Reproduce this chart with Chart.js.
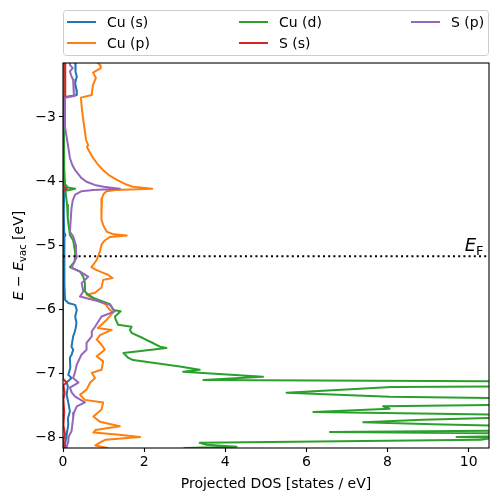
<!DOCTYPE html>
<html>
<head>
<meta charset="utf-8">
<script src="https://cdn.jsdelivr.net/npm/chart.js@4.4.1/dist/chart.umd.min.js"></script>
<style>
html, body { margin: 0; padding: 0; background: #fff; }
canvas { display: block; }
</style>
</head>
<body>
<canvas id="dosChart" width="498" height="502"></canvas>
<script>
// Werte als [Energie, DOS]
var cuS = [[-2.10,0.30],[-2.19,0.32],[-2.24,0.30],[-2.30,0.31],[-2.37,0.34],[-2.47,0.30],[-2.58,0.33],[-2.66,0.34],[-2.69,0.05],[-2.75,0.02],[-3.20,0.02],[-3.80,0.02],[-4.10,0.03],[-4.50,0.02],[-4.80,0.03],[-4.84,0.06],[-4.88,0.03],[-5.20,0.03],[-5.60,0.04],[-5.85,0.05],[-5.90,0.13],[-5.93,0.30],[-6.01,0.34],[-6.11,0.30],[-6.20,0.33],[-6.27,0.32],[-6.35,0.29],[-6.42,0.25],[-6.58,0.21],[-6.63,0.25],[-6.71,0.21],[-6.75,0.17],[-6.91,0.18],[-7.02,0.13],[-7.07,0.21],[-7.14,0.09],[-7.20,0.12],[-7.33,0.09],[-7.45,0.13],[-7.59,0.17],[-7.70,0.12],[-7.80,0.13],[-7.95,0.09],[-8.11,0.05],[-8.25,0.05]];

var cuP = [[-2.05,0.88],[-2.16,0.86],[-2.20,0.92],[-2.24,0.93],[-2.31,0.74],[-2.39,0.81],[-2.50,0.74],[-2.58,0.72],[-2.66,0.71],[-2.70,0.44],[-2.90,0.47],[-3.05,0.50],[-3.36,0.57],[-3.44,0.62],[-3.47,0.59],[-3.55,0.66],[-3.64,0.74],[-3.75,0.87],[-3.83,0.99],[-3.92,1.16],[-3.98,1.33],[-4.05,1.55],[-4.09,1.72],[-4.12,2.20],[-4.14,1.30],[-4.16,1.07],[-4.20,1.00],[-4.27,0.96],[-4.37,0.94],[-4.50,0.94],[-4.60,0.96],[-4.70,1.00],[-4.79,1.08],[-4.83,1.25],[-4.85,1.57],[-4.87,1.16],[-4.93,1.02],[-4.99,0.95],[-5.10,0.91],[-5.18,0.86],[-5.23,0.83],[-5.34,0.70],[-5.38,0.80],[-5.43,0.99],[-5.46,1.11],[-5.51,1.22],[-5.54,0.99],[-5.66,0.95],[-5.74,0.79],[-5.77,0.58],[-5.85,0.80],[-5.92,1.05],[-6.01,1.16],[-6.05,1.23],[-6.16,1.08],[-6.29,0.86],[-6.32,1.20],[-6.40,0.91],[-6.47,0.83],[-6.55,0.95],[-6.63,1.03],[-6.73,0.83],[-6.81,0.99],[-6.94,0.95],[-6.99,0.71],[-7.07,0.79],[-7.14,0.67],[-7.25,0.58],[-7.33,0.42],[-7.41,0.54],[-7.45,0.99],[-7.56,0.95],[-7.67,0.75],[-7.75,0.91],[-7.82,1.40],[-7.88,0.80],[-7.92,0.75],[-7.95,1.32],[-7.99,1.90],[-8.03,1.05],[-8.06,0.95],[-8.12,0.80],[-8.16,1.10],[-8.25,1.05]];

var cuD = [[-2.05,0.02],[-3.00,0.02],[-3.80,0.03],[-4.05,0.05],[-4.10,0.12],[-4.12,0.30],[-4.15,0.06],[-4.37,0.10],[-4.60,0.12],[-4.84,0.17],[-4.92,0.25],[-5.12,0.30],[-5.18,0.30],[-5.26,0.28],[-5.34,0.17],[-5.41,0.42],[-5.49,0.50],[-5.59,0.54],[-5.72,0.54],[-5.76,0.60],[-5.82,0.75],[-5.86,0.91],[-5.92,1.16],[-6.01,1.24],[-6.03,1.42],[-6.11,1.28],[-6.16,1.30],[-6.24,1.36],[-6.27,1.69],[-6.32,1.65],[-6.37,1.70],[-6.45,1.98],[-6.52,2.20],[-6.58,2.39],[-6.60,2.55],[-6.68,1.49],[-6.75,1.60],[-6.79,1.73],[-6.89,2.88],[-6.94,3.37],[-6.97,2.96],[-7.05,4.93],[-7.10,3.46],[-7.12,10.6],[-7.16,14],[-7.20,10.6],[-7.21,8.10],[-7.30,5.51],[-7.36,8.05],[-7.38,10.6],[-7.44,14],[-7.49,10.6],[-7.51,7.89],[-7.55,8.05],[-7.60,6.17],[-7.64,10.6],[-7.67,14],[-7.69,10.6],[-7.72,8.87],[-7.76,7.40],[-7.79,9.12],[-7.81,10.6],[-7.85,13],[-7.89,10.6],[-7.91,6.58],[-7.93,10.6],[-7.96,13],[-7.98,10.44],[-7.99,9.70],[-8.00,10.6],[-8.03,10.3],[-8.08,3.37],[-8.11,3.54],[-8.14,4.28],[-8.16,3.00],[-8.25,2.80]];

var sS = [[-2.05,0.05],[-2.40,0.06],[-2.68,0.05],[-2.72,0.0],[-4.07,0.0],[-4.12,0.09],[-4.17,0.0],[-7.08,0.0],[-7.14,0.09],[-7.18,0.01],[-7.30,0.04],[-7.40,0.01],[-7.60,0.03],[-7.80,0.01],[-7.95,0.05],[-8.05,0.01],[-8.25,0.02]];

var sP = [[-2.05,0.18],[-2.19,0.17],[-2.24,0.24],[-2.29,0.17],[-2.37,0.21],[-2.42,0.25],[-2.55,0.26],[-2.63,0.27],[-2.67,0.30],[-2.70,0.05],[-3.16,0.05],[-3.47,0.13],[-3.64,0.17],[-3.75,0.23],[-3.83,0.30],[-3.95,0.45],[-4.01,0.58],[-4.06,0.78],[-4.09,1.00],[-4.12,1.40],[-4.14,0.75],[-4.16,0.45],[-4.21,0.30],[-4.30,0.24],[-4.42,0.21],[-4.79,0.17],[-4.86,0.25],[-5.00,0.32],[-5.12,0.32],[-5.18,0.34],[-5.35,0.21],[-5.41,0.42],[-5.49,0.62],[-5.59,0.46],[-5.72,0.50],[-5.80,0.42],[-5.86,0.80],[-5.93,1.16],[-6.03,1.28],[-6.11,0.95],[-6.27,0.79],[-6.34,0.71],[-6.42,0.71],[-6.52,0.58],[-6.63,0.58],[-6.71,0.45],[-6.86,0.34],[-6.97,0.30],[-7.07,0.25],[-7.14,0.38],[-7.22,0.17],[-7.30,0.22],[-7.36,0.30],[-7.45,0.54],[-7.51,0.34],[-7.61,0.27],[-7.69,0.25],[-7.90,0.21],[-7.98,0.14],[-8.06,0.13],[-8.14,0.09],[-8.25,0.09]];

var serienNamen = ['Cu (s)', 'Cu (p)', 'Cu (d)', 'S (s)', 'S (p)'];
var serienFarben = ['#1f77b4', '#ff7f0e', '#2ca02c', '#d62728', '#9467bd'];
var serienDaten = [cuS, cuP, cuD, sS, sP];

var eFermi = -5.17;
var xTicks = [0, 2, 4, 6, 8, 10];
var yTicks = [-8, -7, -6, -5, -4, -3];
var xBereich = [0, 10.5];
var yBereich = [-8.16, -2.16];

var schrift = "'DejaVu Sans', sans-serif";

function zuPunkten(reihe) {
    return reihe.map(function(p) { return { x: p[1], y: p[0] }; });
}

function minus(v) {
    return String(v).replace('-', '\u2212');
}

var datasets = serienDaten.map(function(reihe, i) {
    return {
        label: serienNamen[i],
        data: zuPunkten(reihe),
        showLine: true,
        borderColor: serienFarben[i],
        backgroundColor: serienFarben[i],
        borderWidth: 2,
        pointRadius: 0,
        tension: 0,
        borderJoinStyle: 'round',
        order: serienDaten.length - i + 1
    };
});

datasets.push({
    label: 'EF',
    data: [{ x: xBereich[0], y: eFermi }, { x: xBereich[1], y: eFermi }],
    showLine: true,
    borderColor: '#000',
    borderWidth: 2,
    borderDash: [2, 3.2],
    pointRadius: 0,
    order: 0
});

function textTeile(ctx, teile, x, y) {
    var pos = x;
    teile.forEach(function(t) {
        ctx.font = t.f;
        ctx.fillText(t.t, pos, y + (t.dy || 0));
        pos += ctx.measureText(t.t).width;
    });
}

function breite(ctx, teile) {
    var w = 0;
    teile.forEach(function(t) { ctx.font = t.f; w += ctx.measureText(t.t).width; });
    return w;
}

var dekoPlugin = {
    id: 'deko',
    afterDraw: function(chart) {
        var ctx = chart.ctx, a = chart.chartArea;
        var xs = chart.scales.x, ys = chart.scales.y;
        ctx.save();
        ctx.fillStyle = '#000';
        ctx.textBaseline = 'alphabetic';
        ctx.textAlign = 'left';

        // Rahmen
        ctx.strokeStyle = '#000';
        ctx.lineWidth = 1.1;
        ctx.strokeRect(a.left, a.top, a.right - a.left, a.bottom - a.top);

        // E_F Beschriftung
        var fx = xs.getPixelForValue(9.9), fy = ys.getPixelForValue(-5.09);
        textTeile(ctx, [
            { t: 'E', f: 'italic 18px ' + schrift },
            { t: 'F', f: '13px ' + schrift, dy: 4 }
        ], fx, fy);

        // x-Achsentitel
        ctx.font = '14px ' + schrift;
        ctx.textAlign = 'center';
        ctx.fillText('Projected DOS [states / eV]', (a.left + a.right) / 2, 488);

        // y-Achsentitel
        ctx.textAlign = 'left';
        var yTeile = [
            { t: 'E', f: 'italic 14px ' + schrift },
            { t: ' \u2212 ', f: '14px ' + schrift },
            { t: 'E', f: 'italic 14px ' + schrift },
            { t: 'vac', f: '10px ' + schrift, dy: 3 },
            { t: ' [eV]', f: '14px ' + schrift }
        ];
        ctx.save();
        ctx.translate(23, (a.top + a.bottom) / 2);
        ctx.rotate(-Math.PI / 2);
        textTeile(ctx, yTeile, -breite(ctx, yTeile) / 2, 0);
        ctx.restore();

        // Legende
        var lx = 63.5, ly = 10.5, lw = 425, lh = 45, r = 3;
        ctx.beginPath();
        ctx.moveTo(lx + r, ly);
        ctx.arcTo(lx + lw, ly, lx + lw, ly + lh, r);
        ctx.arcTo(lx + lw, ly + lh, lx, ly + lh, r);
        ctx.arcTo(lx, ly + lh, lx, ly, r);
        ctx.arcTo(lx, ly, lx + lw, ly, r);
        ctx.closePath();
        ctx.fillStyle = 'rgba(255,255,255,0.8)';
        ctx.fill();
        ctx.strokeStyle = '#cccccc';
        ctx.lineWidth = 1;
        ctx.stroke();

        var spalteX = [67, 239, 411];
        var zeileY = [22, 43];
        ctx.font = '14px ' + schrift;
        ctx.textBaseline = 'middle';
        serienNamen.forEach(function(name, i) {
            var sx = spalteX[Math.floor(i / 2)], sy = zeileY[i % 2];
            ctx.strokeStyle = serienFarben[i];
            ctx.lineWidth = 2;
            ctx.beginPath();
            ctx.moveTo(sx, sy);
            ctx.lineTo(sx + 29, sy);
            ctx.stroke();
            ctx.fillStyle = '#000';
            ctx.fillText(name, sx + 40, sy + 1);
        });
        ctx.restore();
    }
};

var ctx = document.getElementById('dosChart').getContext('2d');
var dosChart = new Chart(ctx, {
    type: 'scatter',
    data: { datasets: datasets },
    options: {
        responsive: false,
        animation: false,
        devicePixelRatio: 1,
        layout: { padding: { top: 63, right: 9, left: 0, bottom: 0 } },
        plugins: { legend: { display: false }, tooltip: { enabled: false } },
        scales: {
            x: {
                type: 'linear', min: xBereich[0], max: xBereich[1],
                afterBuildTicks: function(s) { s.ticks = xTicks.map(function(v) { return { value: v }; }); },
                afterFit: function(s) { s.height = 54; },
                grid: { display: true, drawOnChartArea: false, drawTicks: true, tickLength: 4, color: '#000', tickWidth: 1.1 },
                border: { display: false },
                ticks: { color: '#000', padding: 2, font: { family: schrift, size: 14 }, maxRotation: 0,
                    callback: function(v) { return minus(v); } }
            },
            y: {
                type: 'linear', min: yBereich[0], max: yBereich[1],
                afterBuildTicks: function(s) { s.ticks = yTicks.map(function(v) { return { value: v }; }); },
                afterFit: function(s) { s.width = 63; },
                grid: { display: true, drawOnChartArea: false, drawTicks: true, tickLength: 4, color: '#000', tickWidth: 1.1 },
                border: { display: false },
                ticks: { color: '#000', padding: 3, font: { family: schrift, size: 14 },
                    callback: function(v) { return minus(v); } }
            }
        }
    },
    plugins: [dekoPlugin]
});
</script>
</body>
</html>
